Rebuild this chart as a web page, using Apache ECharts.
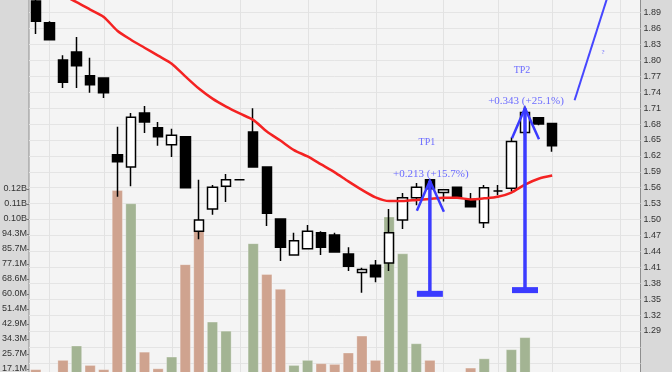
<!DOCTYPE html>
<html><head><meta charset="utf-8">
<script src="https://cdn.jsdelivr.net/npm/echarts@6/dist/echarts.min.js"></script>
<style>html,body{margin:0;padding:0;background:#d9d9d9}#c{width:672px;height:372px}</style>
</head><body><div id="c"></div>
<script>
// ---- data ----
const categories = ['1','2','3','4','5','6','7','8','9','10','11','12','13','14','15','16','17','18','19','20','21','22','23','24','25','26','27','28','29','30','31','32','33','34','35','36','37','38','39','40','41','42','43','44','45'];
const open  = [1.912,1.871,1.801,1.816,1.771,1.767,1.622,1.599,1.701,1.673,1.641,1.656,1.478,1.520,1.563,1.575,1.665,1.599,1.501,1.433,1.445,1.475,1.471,1.435,1.400,1.414,1.418,1.499,1.541,1.575,1.551,1.561,1.538,1.494,1.554,1.559,1.664,1.692,1.681];
const close = [1.874,1.839,1.759,1.790,1.754,1.739,1.609,1.693,1.684,1.656,1.659,1.560,1.499,1.561,1.575,1.575,1.599,1.512,1.448,1.460,1.478,1.448,1.439,1.412,1.406,1.392,1.475,1.541,1.561,1.558,1.556,1.543,1.524,1.560,1.554,1.647,1.702,1.680,1.639];
const low   = [1.850,1.838,1.748,1.748,1.739,1.729,1.543,1.563,1.663,1.639,1.618,1.560,1.463,1.509,1.533,1.575,1.599,1.488,1.422,1.433,1.445,1.433,1.439,1.403,1.362,1.382,1.403,1.482,1.527,1.558,1.534,1.543,1.524,1.484,1.546,1.553,1.659,1.678,1.628];
const high  = [1.915,1.874,1.810,1.844,1.805,1.767,1.675,1.701,1.714,1.684,1.671,1.656,1.575,1.565,1.586,1.575,1.710,1.599,1.501,1.475,1.490,1.478,1.475,1.448,1.409,1.424,1.520,1.550,1.569,1.575,1.556,1.561,1.550,1.565,1.565,1.655,1.713,1.693,1.681];
const volumeM = [17.0,11.0,22.3,30.5,19.4,17.0,119.4,111.8,27.0,17.5,24.2,77.0,102.3,44.2,39.0,0,89.0,71.4,62.9,19.4,22.3,20.4,20.0,26.5,36.2,22.3,104.2,83.2,31.8,22.3,9.0,12.0,17.9,23.2,8.0,28.4,35.3,10.0,7.0];
const ma = [null,null,1.923,1.910,1.896,1.882,1.856,1.839,1.824,1.809,1.794,1.770,1.747,1.728,1.713,1.700,1.688,1.666,1.649,1.631,1.619,1.604,1.589,1.572,1.556,1.542,1.535,1.535,1.537,1.539,1.541,1.541,1.538,1.540,1.543,1.551,1.566,1.577,1.583];
const weekStarts = [1,5,10,15,20,25,30,34,38,43];
const tpIndex  = [29,36];
const tpBase   = [1.360,1.367];
const tpTarget = [1.573,1.710];
const tpName   = ['TP1','TP2'];
const tpText   = ['+0.213 (+15.7%)','+0.343 (+25.1%)'];
const projX = [39.65,42.05];
const projY = [1.725,1.918];
const projNote = {x:41.75, y:1.816, text:'?'};
const volStepM = 60/7;

// ---- chart ----
const UP = '#a3b493', DOWN = '#cfa38f', BLUE = '#3b3bff', BLUE_T = '#6b6bff';
const chart = echarts.init(document.getElementById('c'), null, {renderer:'canvas'});
const volData = volumeM.map((v,i)=>({value:v,itemStyle:{color:(i===0?close[0]<open[0]:close[i]<close[i-1])?DOWN:UP}}));
const candleData = open.map((o,i)=>[o,close[i],low[i],high[i]]);
const lblFont = {color:'#333',fontFamily:'Liberation Sans',fontSize:9};

chart.setOption({
  animation:false,
  backgroundColor:'#d9d9d9',
  grid:[
    {left:29,right:31.5,top:-3.2,bottom:-6.7,outerBoundsMode:'none',containLabel:false,show:true,backgroundColor:'#f4f4f4',borderColor:'#8e8e8e',borderWidth:1},
    {left:29,right:31.5,top:189,bottom:-27,outerBoundsMode:'none',containLabel:false}
  ],
  xAxis:[
    {type:'category',gridIndex:0,data:categories,boundaryGap:true,show:false},
    {type:'category',gridIndex:1,data:categories,boundaryGap:true,show:false},
    {type:'value',gridIndex:0,min:-0.5,max:44.5,show:false}
  ],
  yAxis:[
    {type:'value',gridIndex:0,position:'right',min:1.20,max:1.92,interval:0.03,
     axisLine:{show:false},axisTick:{show:false},
     splitLine:{lineStyle:{color:'#e4e4e4',width:1}},
     axisLabel:Object.assign({margin:3,formatter:v=>(v>1.285&&v<1.895)?v.toFixed(2):''},lblFont)},
    {type:'value',gridIndex:1,position:'left',min:0,max:14*volStepM,interval:volStepM,
     axisLine:{show:false},axisTick:{show:true,length:2,lineStyle:{color:'#777'}},
     splitLine:{show:false},
     axisLabel:Object.assign({margin:2,formatter:v=>v<100?v.toFixed(1)+'M':(v/1000).toFixed(2)+'B'},lblFont)}
  ],
  series:[
    {type:'custom',xAxisIndex:2,yAxisIndex:0,z:1,silent:true,
     data:weekStarts.map(v=>[v,1.5]),
     renderItem:(params,api)=>{
       const x = Math.round(api.coord([api.value(0),1.5])[0])+0.5;
       const cs = params.coordSys;
       return {type:'line',shape:{x1:x,y1:cs.y,x2:x,y2:cs.y+cs.height},style:{stroke:'#e2e2e2',lineWidth:1}};
     }},
    {type:'bar',xAxisIndex:1,yAxisIndex:1,barWidth:11,z:2,data:volData,
     itemStyle:{borderColor:'rgba(255,255,255,0.35)',borderWidth:0.8}},
    {type:'candlestick',xAxisIndex:0,yAxisIndex:0,barWidth:10,z:3,data:candleData,
     itemStyle:{color:'#ffffff',color0:'#000000',borderColor:'#000000',borderColor0:'#000000',borderColorDoji:'#000000',borderWidth:1.5}},
    {type:'line',xAxisIndex:0,yAxisIndex:0,z:4,data:ma,showSymbol:false,smooth:0.25,
     lineStyle:{color:'#f42222',width:2.5}},
    {type:'line',xAxisIndex:2,yAxisIndex:0,z:9,data:projX.map((x,i)=>[x,projY[i]]),showSymbol:false,
     lineStyle:{color:'#4646ff',width:2}},
    {type:'custom',xAxisIndex:2,yAxisIndex:0,z:9,silent:true,data:[[projNote.x,projNote.y]],
     renderItem:(params,api)=>{
       const p = api.coord([api.value(0),api.value(1)]);
       return {type:'text',style:{x:p[0],y:p[1],text:projNote.text,fill:BLUE_T,font:'7px Liberation Serif',align:'center',verticalAlign:'middle'}};
     }},
    {type:'custom',xAxisIndex:2,yAxisIndex:0,z:10,silent:true,
     data:tpIndex.map((x,i)=>[x,tpBase[i],tpTarget[i]]),
     renderItem:(params,api)=>{
       const i = params.dataIndex;
       const top = api.coord([api.value(0),api.value(2)]);
       const bot = api.coord([api.value(0),api.value(1)]);
       return {type:'group',children:[
         {type:'line',shape:{x1:top[0],y1:top[1],x2:bot[0],y2:bot[1]},style:{stroke:BLUE,lineWidth:3.5}},
         {type:'rect',shape:{x:bot[0]-13,y:bot[1]-3,width:26,height:6},style:{fill:BLUE}},
         {type:'polyline',shape:{points:[[top[0]-13,top[1]+30],[top[0],top[1]],[top[0]+14,top[1]+31]]},style:{stroke:BLUE,lineWidth:2.5,fill:null}},
         {type:'text',style:{x:top[0]+1,y:top[1]-7,text:tpText[i],fill:BLUE_T,font:'11px Liberation Serif',align:'center',verticalAlign:'middle'}},
         {type:'text',style:{x:top[0]-3,y:top[1]-38,text:tpName[i],fill:BLUE_T,font:'10px Liberation Serif',align:'center',verticalAlign:'middle'}}
       ]};
     }}
  ]
});
</script>
</body></html>
